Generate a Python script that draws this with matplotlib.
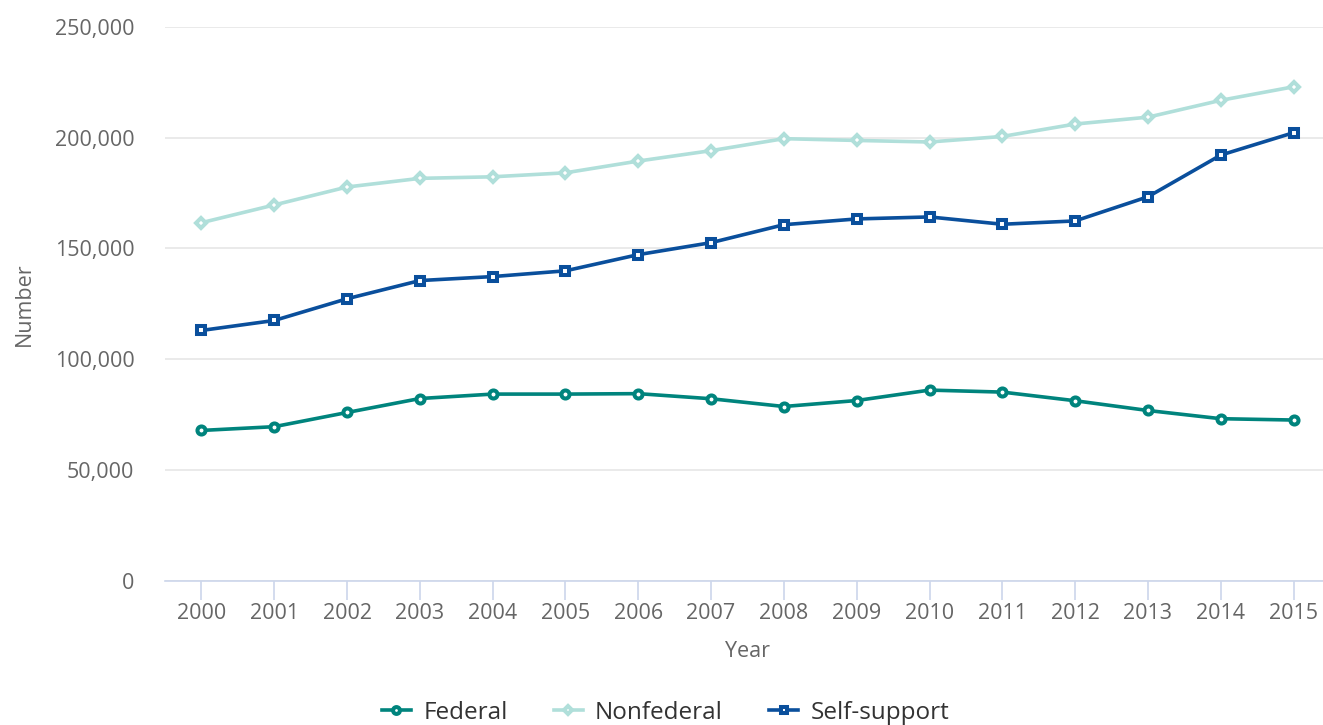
import matplotlib
matplotlib.use("Agg")
import matplotlib.pyplot as plt
from matplotlib.ticker import FuncFormatter

plt.rcParams["font.family"] = ["Open Sans", "DejaVu Sans"]

years = [str(y) for y in range(2000, 2016)]
federal = [67900, 69600, 76000, 82300, 84300, 84300, 84500, 82200,
           78700, 81400, 86100, 85200, 81300, 76900, 73200, 72600]
nonfederal = [161600, 169600, 177700, 181600, 182300, 184100, 189400, 194100,
              199500, 198700, 198000, 200500, 206100, 209200, 216800, 222900]
self_support = [113000, 117500, 127300, 135500, 137300, 139900, 147200, 152600,
                160700, 163300, 164200, 160900, 162400, 173300, 192100, 202200]
y_ticks = [0, 50000, 100000, 150000, 200000, 250000]

W, H = 1323, 725
fig = plt.figure(figsize=(W / 100, H / 100), dpi=100)
ax = fig.add_axes([165 / W, 1 - 581 / H, (1330 - 165) / W, (581 - 26.7) / H])

x = list(range(len(years)))
series = [
    ("Federal", federal, "#00847d", "o", 5.8),
    ("Nonfederal", nonfederal, "#b0dfda", "D", 4.6),
    ("Self-support", self_support, "#0a4f9c", "s", 5.8),
]
handles = []
for name, vals, color, marker, ms in series:
    (h,) = ax.plot(x, vals, color=color, lw=2.6, marker=marker, ms=ms,
                   mfc="white", mec=color, mew=2.9, label=name, zorder=3,
                   clip_on=False)
    handles.append(h)

ax.set_xlim(-0.5, len(years) - 0.5)
ax.set_ylim(0, 250000)
ax.set_yticks(y_ticks)
ax.yaxis.set_major_formatter(FuncFormatter(lambda v, p: f"{int(v):,}"))
ax.set_xticks(x)
ax.set_xticklabels(years)

ax.grid(axis="y", color="#e6e6e6", lw=1.2)
ax.set_axisbelow(True)
for s in ("top", "right", "left"):
    ax.spines[s].set_visible(False)
ax.spines["bottom"].set_color("#ccd6eb")
ax.spines["bottom"].set_linewidth(1.2)

ax.tick_params(axis="y", length=0, pad=22, labelsize=15.5, labelcolor="#666666")
ax.tick_params(axis="x", length=14, width=1.2, color="#ccd6eb", pad=2,
               labelsize=15.5, labelcolor="#666666")

ax.set_xlabel("Year", fontsize=15.5, color="#666666", labelpad=12)
ax.set_ylabel("Number", fontsize=15.5, color="#666666")
ax.yaxis.set_label_coords(-0.112, 0.5)

fig.legend(handles=handles, loc="center", bbox_to_anchor=(0.503, 1 - 713 / H),
           ncol=3, frameon=False, fontsize=17.5, labelcolor="#333333",
           handlelength=1.2, handletextpad=0.5, columnspacing=1.9,
           markerscale=0.85)

fig.savefig("out.png", dpi=100)
